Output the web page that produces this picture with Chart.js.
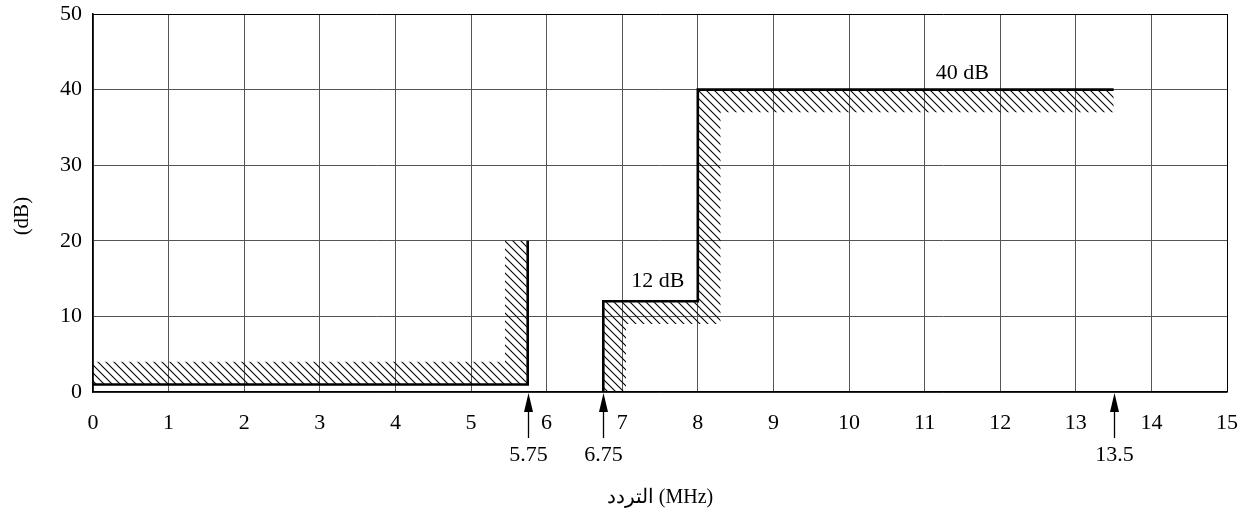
<!DOCTYPE html>
<html><head><meta charset="utf-8">
<script src="https://cdn.jsdelivr.net/npm/chart.js@4/dist/chart.umd.min.js"></script>
<style>html,body{margin:0;padding:0;background:#fff}#wrap{width:1253px;height:518px}</style>
</head><body><div id="wrap"><canvas id="c" width="1253" height="518"></canvas></div>
<script>
// ---- data ----
const xMin = 0, xMax = 15, xStep = 1;
const yMin = 0, yMax = 50, yStep = 10;
const maskLowX = [0, 5.75, 5.75];
const maskLowY = [1, 1, 20];
const maskHighX = [6.75, 6.75, 8, 8, 13.5];
const maskHighY = [0, 12, 12, 40, 40];
const hatchLowX = [0, 5.75, 5.75, 5.45, 5.45, 0];
const hatchLowY = [1, 1, 20, 20, 4, 4];
const hatchHighX = [6.75, 6.75, 8, 8, 13.5, 13.5, 8.3, 8.3, 7.05, 7.05];
const hatchHighY = [0, 12, 12, 40, 40, 37, 37, 9, 9, 0];
const markerValues = [5.75, 6.75, 13.5];
const markerLabels = ['5.75', '6.75', '13.5'];
const levelLabels = ['12 dB', '40 dB'];
const levelX = [7.47, 11.5];
const levelY = [14.6, 42.2];
const xTitle = 'التردد (MHz)';
const yTitle = '(dB)';

const zip = (xs, ys) => xs.map((x, i) => ({x, y: ys[i]}));

// hatch pattern
function makeHatch() {
  const s = 8;
  const c = document.createElement('canvas');
  c.width = s; c.height = s;
  const g = c.getContext('2d');
  g.strokeStyle = '#000';
  g.lineWidth = 1.1;
  for (let k = -1; k <= 1; k++) {
    g.beginPath();
    g.moveTo(k * s - 1, -1);
    g.lineTo(k * s + s + 1, s + 1);
    g.stroke();
  }
  return g.createPattern(c, 'repeat');
}
const hatch = makeHatch();

const FONT = "'Liberation Serif', 'Times New Roman', serif";
const FS = 22;

const annot = {
  id: 'annot',
  afterDraw(chart) {
    const {ctx, scales: {x, y}} = chart;
    ctx.save();
    ctx.fillStyle = '#000';
    ctx.strokeStyle = '#000';
    const py = y.getPixelForValue(0);
    markerValues.forEach((v, i) => {
      const px = Math.round(x.getPixelForValue(v)) + 0.5;
      ctx.lineWidth = 1.3;
      ctx.beginPath(); ctx.moveTo(px, py + 16); ctx.lineTo(px, py + 46); ctx.stroke();
      ctx.beginPath(); ctx.moveTo(px, py + 1); ctx.lineTo(px - 4.5, py + 20); ctx.lineTo(px + 4.5, py + 20); ctx.closePath(); ctx.fill();
      ctx.font = FS + 'px ' + FONT;
      ctx.textAlign = 'center';
      ctx.textBaseline = 'middle';
      ctx.fillText(markerLabels[i], px, py + 63);
    });
    levelLabels.forEach((t, i) => {
      ctx.font = FS + 'px ' + FONT;
      ctx.textAlign = 'center';
      ctx.textBaseline = 'middle';
      ctx.fillText(t, x.getPixelForValue(levelX[i]), y.getPixelForValue(levelY[i]));
    });
    ctx.restore();
  }
};

const lineDs = (data) => ({
  data, borderColor: '#000', borderWidth: 2.6, pointRadius: 0, fill: false,
  tension: 0, borderJoinStyle: 'miter', borderCapStyle: 'butt', clip: false, order: 0
});
const hatchDs = (data) => ({
  data, borderWidth: 0, borderColor: 'rgba(0,0,0,0)', backgroundColor: hatch,
  pointRadius: 0, fill: 'shape', tension: 0, order: 1
});

new Chart(document.getElementById('c'), {
  type: 'line',
  data: {
    datasets: [
      hatchDs(zip(hatchLowX, hatchLowY)),
      hatchDs(zip(hatchHighX, hatchHighY)),
      lineDs(zip(maskLowX, maskLowY)),
      lineDs(zip(maskHighX, maskHighY))
    ]
  },
  options: {
    responsive: false,
    animation: false,
    devicePixelRatio: 1,
    layout: {padding: {left: 0, top: 14, right: 26, bottom: 0}},
    plugins: {legend: {display: false}, tooltip: {enabled: false}},
    scales: {
      x: {
        type: 'linear', min: xMin, max: xMax,
        ticks: {stepSize: xStep, color: '#000', font: {family: FONT, size: FS}, padding: 18, maxRotation: 0},
        grid: {color: c => c.tick && c.tick.value === xMax ? '#000' : '#555', lineWidth: 1, drawTicks: false},
        border: {color: '#000', width: 1.5},
        title: {display: true, text: xTitle, color: '#000', font: {family: FONT, size: 20}, padding: {top: 0, bottom: 8}},
        afterFit: s => { s.height = 126; s.paddingLeft = 0; s.paddingRight = 0; }
      },
      y: {
        type: 'linear', min: yMin, max: yMax,
        ticks: {stepSize: yStep, color: '#000', font: {family: FONT, size: FS}, padding: 11},
        grid: {color: c => c.tick && c.tick.value === yMax ? '#000' : '#555', lineWidth: 1, drawTicks: false},
        border: {color: '#000', width: 1.5},
        title: {display: true, text: yTitle + '     ', color: '#000', font: {family: FONT, size: 21}, padding: {top: 10, bottom: 0}},
        afterFit: s => { s.width = 93; s.paddingTop = 0; s.paddingBottom = 0; }
      }
    }
  },
  plugins: [annot]
});
</script></body></html>
